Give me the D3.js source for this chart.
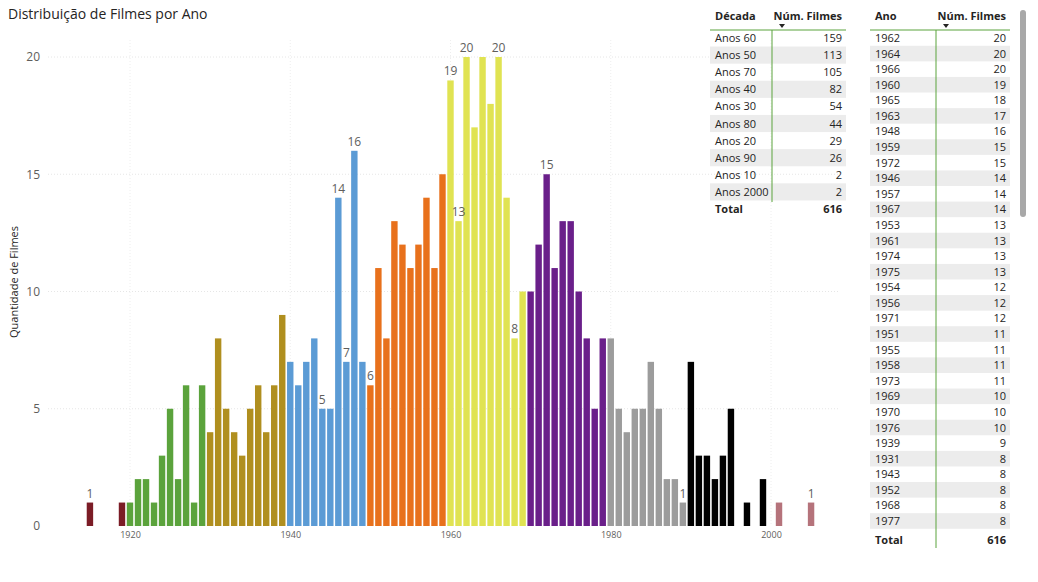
<!DOCTYPE html>
<html><head><meta charset="utf-8">
<script src="https://cdn.jsdelivr.net/npm/d3@7"></script>
<style>body{margin:0;background:#fff;font-family:"Segoe UI","Open Sans",sans-serif;}</style>
</head><body>
<svg id="chart" width="1038" height="582"></svg>
<script>
const years = [1915,1919,1920,1921,1922,1923,1924,1925,1926,1927,1928,1929,
  1930,1931,1932,1933,1934,1935,1936,1937,1938,1939,
  1940,1941,1942,1943,1944,1945,1946,1947,1948,1949,
  1950,1951,1952,1953,1954,1955,1956,1957,1958,1959,
  1960,1961,1962,1963,1964,1965,1966,1967,1968,1969,
  1970,1971,1972,1973,1974,1975,1976,1977,1978,1979,
  1980,1981,1982,1983,1984,1985,1986,1987,1988,1989,
  1990,1991,1992,1993,1994,1995,1997,1999,2001,2005];
const counts = [1,1,1,2,2,1,3,5,2,6,1,6,
  4,8,5,4,3,5,6,4,6,9,
  7,6,7,8,5,5,14,7,16,7,
  6,11,8,13,12,11,12,14,11,15,
  19,13,20,17,20,18,20,14,8,10,
  10,12,15,11,13,13,10,8,5,8,
  8,5,4,5,5,7,5,2,2,1,
  7,3,3,2,3,5,1,2,1,1];
const labelledYears = [1915,1944,1946,1947,1948,1950,1960,1961,1962,1966,1968,1972,1989,2005];
const decadeColors = {1910:"#7b1c26",1920:"#5ba33c",1930:"#b08f1f",1940:"#5b9bd5",1950:"#e8711c",
  1960:"#e0e352",1970:"#6a1f8a",1980:"#9c9c9c",1990:"#000000",2000:"#b5737b"};
const xTicks = [1920,1940,1960,1980,2000];
const yTicks = [0,5,10,15,20];

const decadeNames = ["Anos 60","Anos 50","Anos 70","Anos 40","Anos 30","Anos 80","Anos 20","Anos 90","Anos 10","Anos 2000"];
const decadeTotals = [159,113,105,82,54,44,29,26,2,2];
const yearRows = [1962,1964,1966,1960,1965,1963,1948,1959,1972,1946,1957,1967,1953,1961,1974,1975,1954,1956,1971,1951,1955,1958,1973,1969,1970,1976,1939,1931,1943,1952,1968,1977];
const yearRowCounts = [20,20,20,19,18,17,16,15,15,14,14,14,13,13,13,13,12,12,12,11,11,11,11,10,10,10,9,8,8,8,8,8];

const svg = d3.select("#chart");
const data = years.map((y, i) => ({year: y, count: counts[i]}));

// title
svg.append("text").attr("x", 8).attr("y", 19).attr("font-size", "14px")
  .attr("fill", "#252423").text("Distribuição de Filmes por Ano");

const x = d3.scaleLinear().domain([1920, 2000]).range([130, 771]);
const y = d3.scaleLinear().domain([0, 20]).range([526, 57]);
const step = x(1921) - x(1920);
const bw = step - 1.6;

// gridlines
svg.append("g").selectAll("line").data(yTicks.slice(1)).join("line")
  .attr("x1", 48).attr("x2", 840).attr("y1", d => y(d)).attr("y2", d => y(d))
  .attr("stroke", "#e6e6e6").attr("stroke-dasharray", "1,2");
svg.append("g").selectAll("line").data(xTicks).join("line")
  .attr("x1", d => x(d)).attr("x2", d => x(d)).attr("y1", 40).attr("y2", 526)
  .attr("stroke", "#eeeeee").attr("stroke-dasharray", "1,2");

// axes
const yAxis = svg.append("g").attr("transform", "translate(40,0)")
  .call(d3.axisLeft(y).tickValues(yTicks).tickSize(0).tickPadding(0));
yAxis.select(".domain").remove();
yAxis.selectAll("text").attr("font-size", "12px").attr("fill", "#605e5c").attr("font-family", "Segoe UI, Open Sans, sans-serif");
const xAxis = svg.append("g").attr("transform", "translate(0,528)")
  .call(d3.axisBottom(x).tickValues(xTicks).tickFormat(d3.format("d")).tickSize(0).tickPadding(4));
xAxis.select(".domain").remove();
xAxis.selectAll("text").attr("font-size", "9px").attr("fill", "#605e5c").attr("font-family", "Segoe UI, Open Sans, sans-serif");

svg.append("text").attr("transform", "translate(18,282) rotate(-90)")
  .attr("text-anchor", "middle").attr("font-size", "11px").attr("fill", "#252423")
  .text("Quantidade de Filmes");

// bars
svg.append("g").selectAll("rect").data(data).join("rect")
  .attr("x", d => x(d.year) - bw / 2).attr("width", bw)
  .attr("y", d => y(d.count)).attr("height", d => y(0) - y(d.count))
  .attr("fill", d => decadeColors[Math.floor(d.year / 10) * 10]);

svg.append("g").selectAll("text").data(data.filter(d => labelledYears.includes(d.year))).join("text")
  .attr("x", d => x(d.year)).attr("y", d => y(d.count) - 5)
  .attr("text-anchor", "middle").attr("font-size", "12px").attr("fill", "#605e5c")
  .text(d => d.count);

// tables
function drawTable(x0, width, divX, headers, col1, col2, rowH, firstY, total) {
  const g = svg.append("g").attr("font-size", "11px").attr("fill", "#252423");
  g.append("text").attr("x", x0 + 5).attr("y", 20).attr("font-weight", "bold").text(headers[0]);
  g.append("text").attr("x", x0 + width - 4).attr("y", 20).attr("text-anchor", "end").attr("font-weight", "bold").text(headers[1]);
  g.append("path").attr("d", `M${x0 + width - 67},24 l6,0 l-3,4 z`).attr("fill", "#252423");
  g.append("line").attr("x1", x0).attr("x2", x0 + width).attr("y1", 30).attr("y2", 30).attr("stroke", "#5ba33c");
  col1.forEach((c, i) => {
    const ry = firstY + i * rowH;
    if (i % 2 === 1) g.append("rect").attr("x", x0).attr("y", ry - rowH / 2).attr("width", width).attr("height", rowH).attr("fill", "#ececec");
    g.append("text").attr("x", x0 + 5).attr("y", ry + 4).text(c);
    g.append("text").attr("x", x0 + width - 4).attr("y", ry + 4).attr("text-anchor", "end").text(col2[i]);
  });
  const lastY = total.y !== undefined ? total.y : firstY + col1.length * rowH;
  g.append("line").attr("x1", divX).attr("x2", divX).attr("y1", 30).attr("y2", total.lineEnd)
    .attr("stroke", "#5ba33c");
  if (total.cover) g.append("rect").attr("x", x0).attr("y", total.cover).attr("width", width + 2).attr("height", 40).attr("fill", "#fff");
  g.append("text").attr("x", x0 + 5).attr("y", lastY + 4).attr("font-weight", "bold").text("Total");
  g.append("text").attr("x", x0 + width - 4).attr("y", lastY + 4).attr("text-anchor", "end").attr("font-weight", "bold").text(total.value);
  if (total.cover) g.select("line:last-of-type");
}
drawTable(710, 136, 772, ["Década", "Núm. Filmes"], decadeNames, decadeTotals, 17.1, 38, {value: 616, lineEnd: 202});
drawTable(870, 140, 936, ["Ano", "Núm. Filmes"], yearRows, yearRowCounts, 15.58, 38, {value: 616, y: 540, lineEnd: 548, cover: 529});
svg.append("line").attr("x1", 936).attr("x2", 936).attr("y1", 529).attr("y2", 548).attr("stroke", "#5ba33c");

// scrollbar
svg.append("rect").attr("x", 1020).attr("y", 10).attr("width", 6).attr("height", 207).attr("rx", 3).attr("fill", "#a8a8a8");
</script>
</body></html>
